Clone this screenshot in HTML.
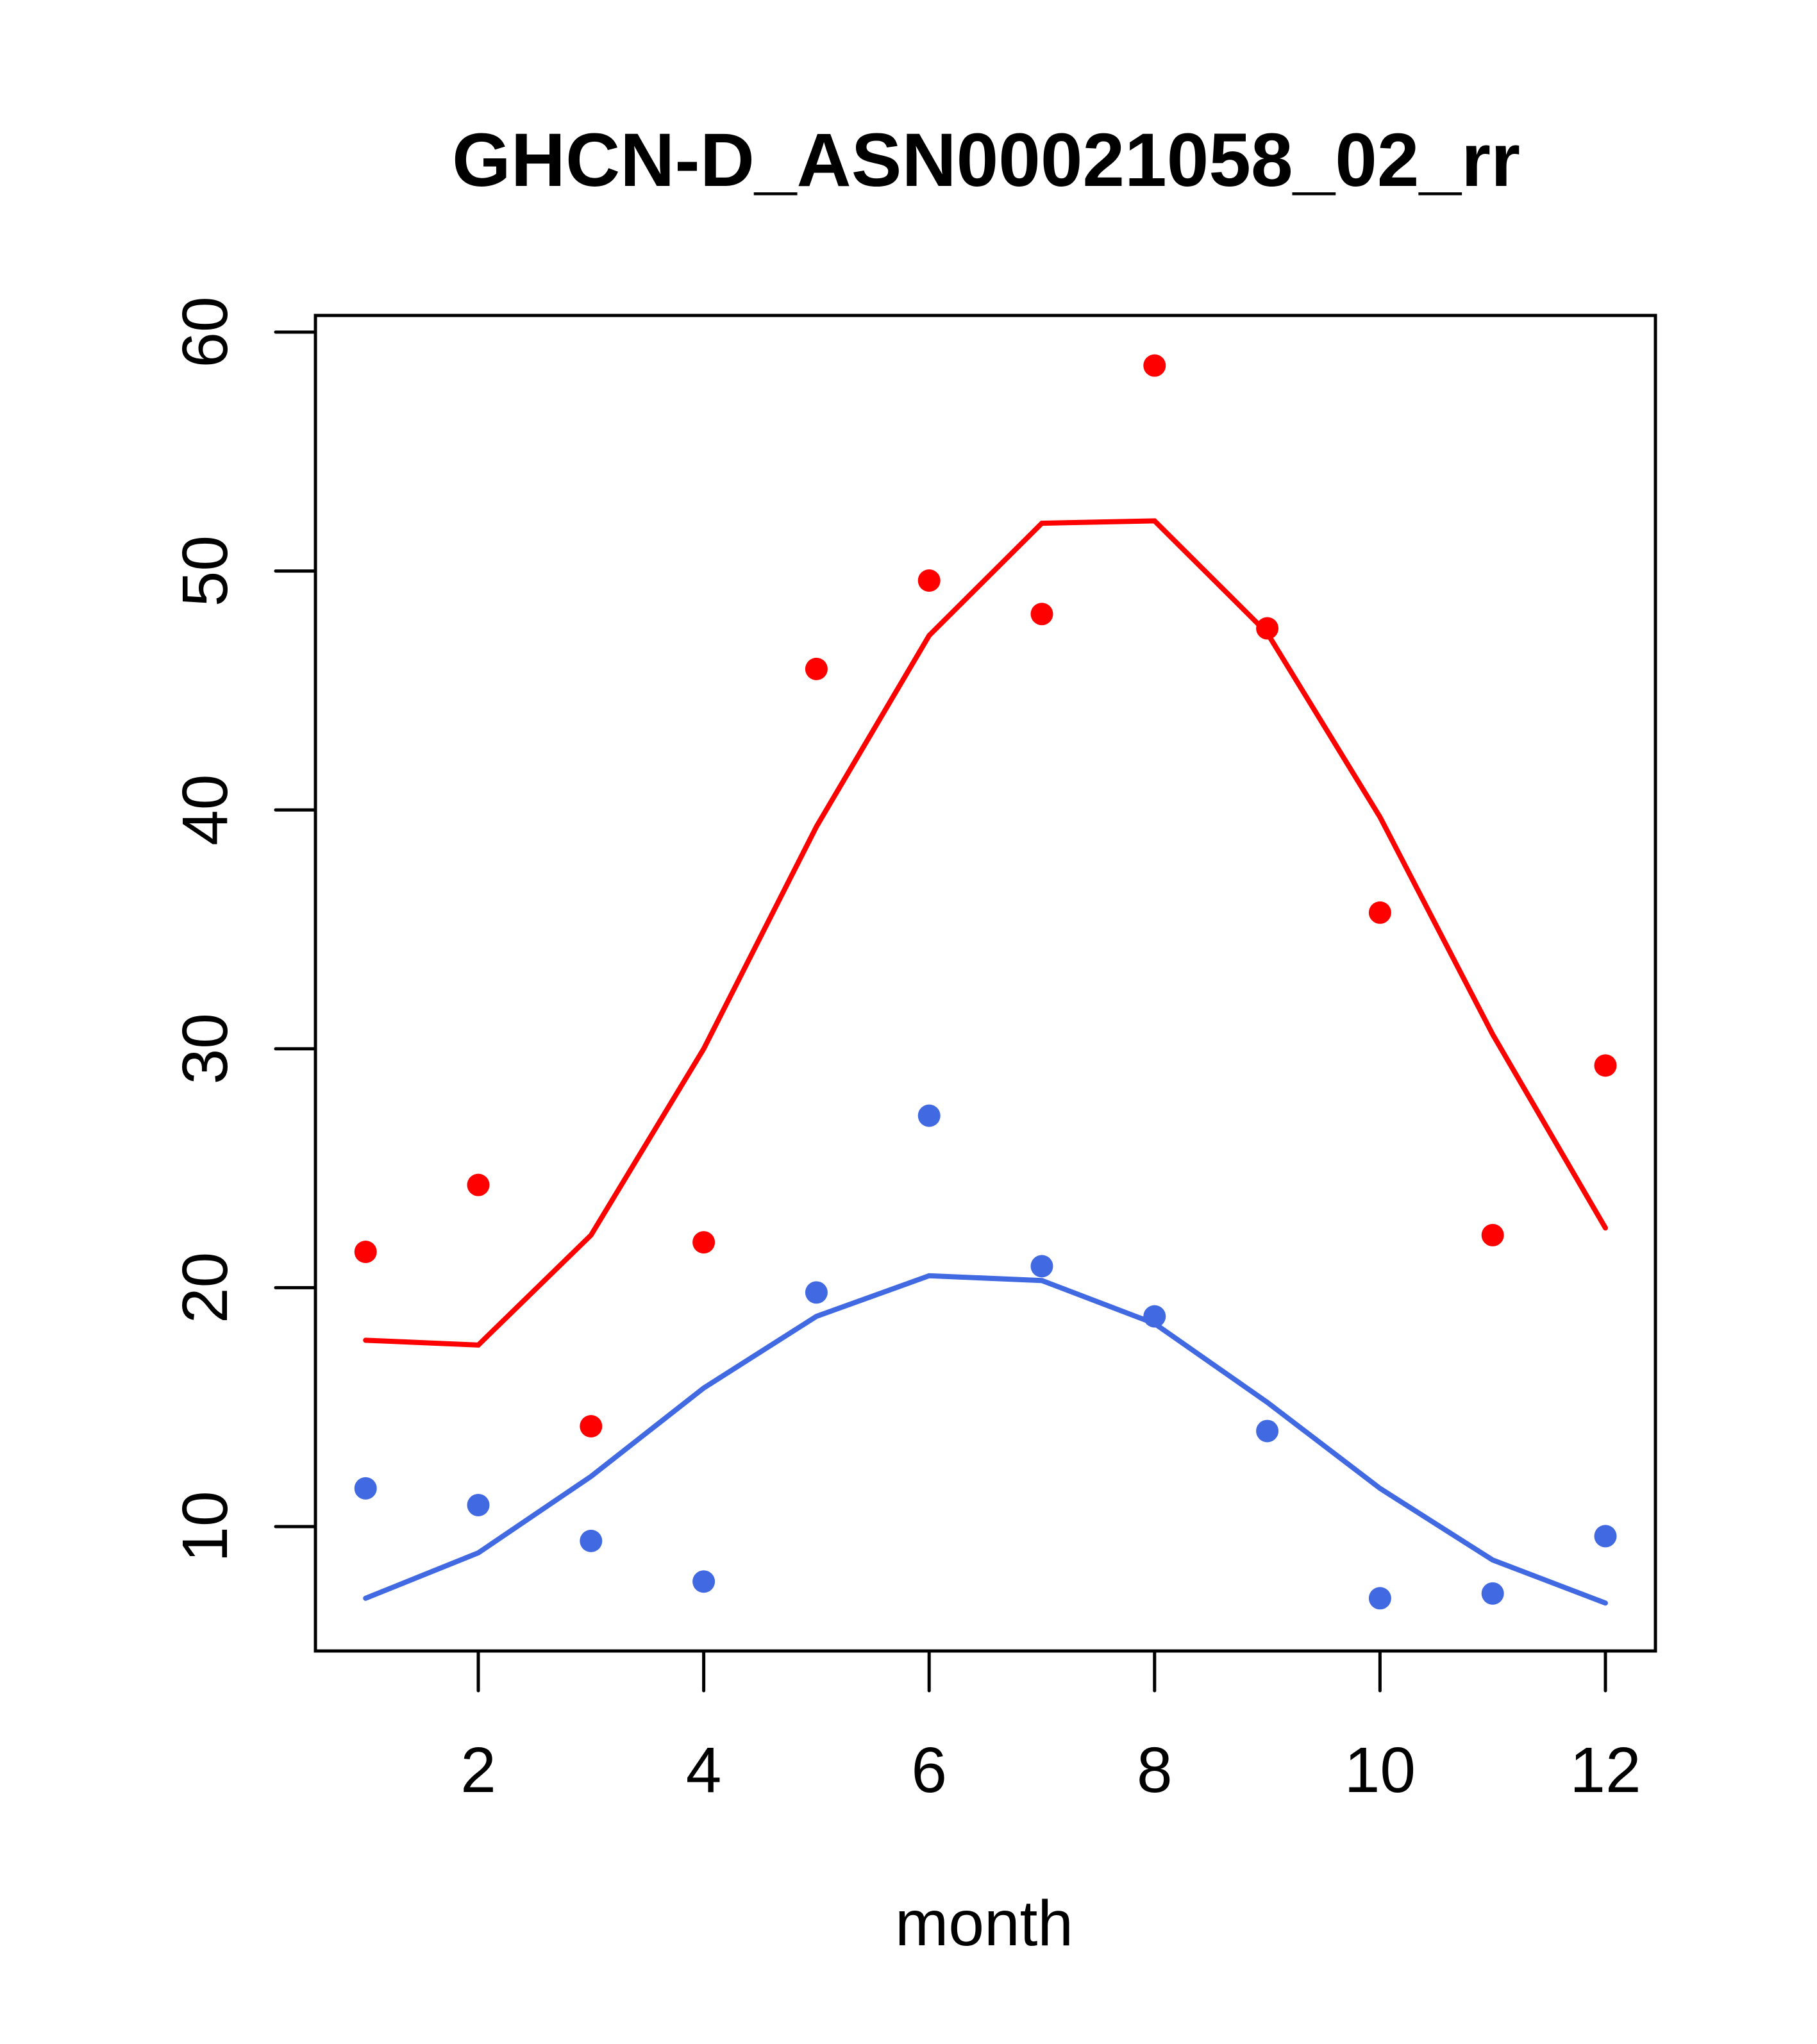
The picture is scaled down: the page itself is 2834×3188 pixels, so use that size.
<!DOCTYPE html>
<html><head><meta charset="utf-8"><style>body{margin:0;background:#fff}svg{display:block}</style></head>
<body>
<svg width="2834" height="3188" viewBox="0 0 2834 3188" xmlns="http://www.w3.org/2000/svg" font-family="Liberation Sans, sans-serif">
<text x="1538" y="290" font-size="118" font-weight="bold" text-anchor="middle">GHCN-D_ASN00021058_02_rr</text>
<rect x="492" y="492" width="2090" height="2083" fill="none" stroke="#000" stroke-width="5"/>
<g id="axes"></g>
<g id="marks"></g>
<text x="1535" y="3034" font-size="100" text-anchor="middle">month</text>
</svg>
<script>
const months=[1,2,3,4,5,6,7,8,9,10,11,12];
const redPoints=[21.5,24.3,14.2,21.9,45.9,49.6,48.2,58.6,47.6,35.7,22.2,29.3];
const redLine=[17.8,17.6,22.2,30.0,39.3,47.3,52.0,52.1,47.4,39.7,30.6,22.5];
const bluePoints=[11.6,10.9,9.4,7.7,19.8,27.2,20.9,18.8,14.0,7.0,7.2,9.6];
const blueLine=[7.0,8.9,12.1,15.8,18.8,20.5,20.3,18.5,15.2,11.6,8.6,6.8];
const xTicks=[2,4,6,8,10,12];
const yTicks=[10,20,30,40,50,60];
const NS='http://www.w3.org/2000/svg';
function xs(m){return 746+(m-2)*(2504-746)/10;}
function ys(v){return 2381-(v-10)*(2381-518)/50;}
function mk(t,a,p){const e=document.createElementNS(NS,t);for(const k in a)e.setAttribute(k,a[k]);p.appendChild(e);return e;}
const ax=document.getElementById('axes'),mg=document.getElementById('marks');
xTicks.forEach(t=>{
 const l=mk('line',{x1:xs(t),x2:xs(t),y1:2575,y2:2637,stroke:'#000','stroke-width':5,'stroke-linecap':'round'},ax);
 
 
 const tx=mk('text',{x:xs(t),y:2795,'font-size':100,'text-anchor':'middle'},ax);tx.textContent=t;
 
 
});
yTicks.forEach(t=>{
 const l=mk('line',{x1:430,x2:492,y1:ys(t),y2:ys(t),stroke:'#000','stroke-width':5,'stroke-linecap':'round'},ax);
 
 
 const tx=mk('text',{x:354,y:ys(t),'font-size':100,'text-anchor':'middle',transform:`rotate(-90 354 ${ys(t)})`},ax);tx.textContent=t;
 
 
});
function line(vals,c,name){const p=mk('polyline',{points:months.map((m,i)=>xs(m)+','+ys(vals[i])).join(' '),fill:'none',stroke:c,'stroke-width':8,'stroke-linecap':'round'},mg);
 
 }
function pts(vals,c,name){months.forEach((m,i)=>{const e=mk('circle',{cx:xs(m),cy:ys(vals[i]),r:17.5,fill:c},mg);
 
 });}
line(redLine,'#ff0000','red-line');
line(blueLine,'#4169e1','blue-line');
pts(redPoints,'#ff0000','red-point');
pts(bluePoints,'#4169e1','blue-point');
</script>
</body></html>
